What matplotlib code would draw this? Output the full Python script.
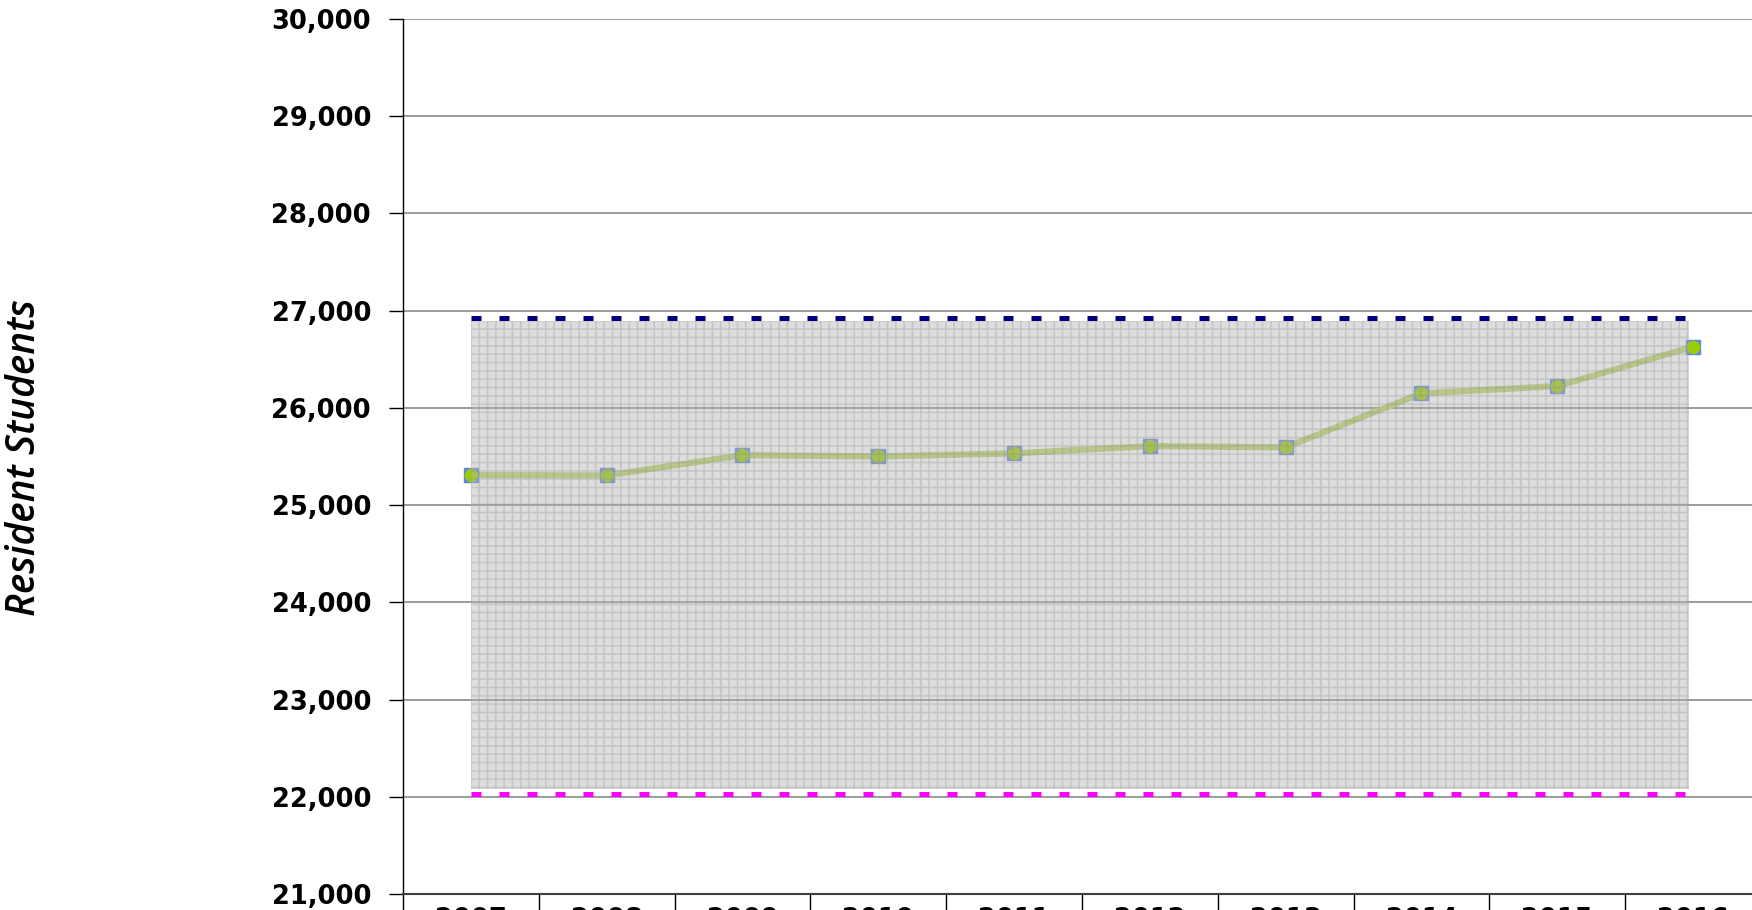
import numpy as np
import matplotlib.pyplot as plt
from matplotlib.ticker import FuncFormatter

# resident enrolment by year
years = ['2007', '2008', '2009', '2010', '2011', '2012', '2013', '2014', '2015', '2016']
students = [25309, 25305, 25514, 25501, 25532, 25607, 25594, 26149, 26224, 26629]

# allowed range (upper / lower limit) and the shaded band between them
upper_limit = 26920
lower_limit = 22030
band_top = 26890
band_bottom = 22080

fig = plt.figure(figsize=(17.52, 9.10), dpi=100)
ax = fig.add_axes([0.2300, 0.01758, 0.7751, 0.96154])
x = np.arange(len(years))

ax.set_xlim(-0.5, len(years) - 0.5)
ax.set_ylim(21000, 30000)
ax.set_yticks(np.arange(21000, 30001, 1000))
ax.yaxis.set_major_formatter(FuncFormatter(lambda v, p: f'{v:,.0f}'))
ax.grid(axis='y', color='#808080', linewidth=1.1)
ax.set_axisbelow(True)

# enrolment line with square + circle markers
ax.plot(x, students, color='#bcd468', lw=4.5, zorder=2)
ax.plot(x, students, ls='none', marker='s', ms=10.5, mfc='#5b86e5', mec='#5b86e5', zorder=3)
ax.plot(x, students, ls='none', marker='o', ms=8.8, mfc='#99cc00', mec='#99cc00', zorder=3)

# semi-transparent patterned band drawn over the line
xb = [x[0], x[-1] - 0.03]
ax.fill_between(xb, band_bottom, band_top, facecolor=(0.71, 0.71, 0.71, 0.45), lw=0, zorder=4)
plt.rcParams['hatch.linewidth'] = 1.1
ax.fill_between(xb, band_bottom, band_top, facecolor='none',
                edgecolor=(0.55, 0.55, 0.55, 0.3), hatch='++', lw=0, zorder=4)

# limit lines
xl = [x[0], x[-1]]
ax.plot(xl, [upper_limit] * 2, color='#000080', lw=3.6, dashes=(2, 3.6),
        dash_capstyle='butt', zorder=5)
ax.plot(xl, [lower_limit] * 2, color='#ff00ff', lw=3.6, dashes=(2, 3.6),
        dash_capstyle='butt', zorder=5)

# category axis: labels at centres, separators between
ax.set_xticks(x)
ax.set_xticklabels(years, fontsize=18.5, fontweight='bold')
ax.set_xticks(np.arange(-0.5, len(years), 1), minor=True)
ax.tick_params(axis='x', which='major', length=0, pad=9)
ax.tick_params(axis='x', which='minor', length=25, width=1, color='black')
ax.tick_params(axis='y', length=10, width=1, color='black', pad=13)
for lab in ax.get_yticklabels():
    lab.set_fontsize(18.5)
    lab.set_fontweight('bold')

ax.spines['top'].set_visible(False)
ax.spines['right'].set_visible(False)
ax.spines['left'].set_color('black')
ax.spines['left'].set_linewidth(1)
ax.spines['bottom'].set_color('#404040')
ax.spines['bottom'].set_linewidth(1.5)

fig.text(25 / 1752, 1 - 458 / 910, 'Resident Students', rotation=90,
         fontsize=28, style='italic', fontweight='semibold',
         family=['Open Sans', 'DejaVu Sans'], ha='center', va='center')

fig.savefig('out.png', dpi=100)
